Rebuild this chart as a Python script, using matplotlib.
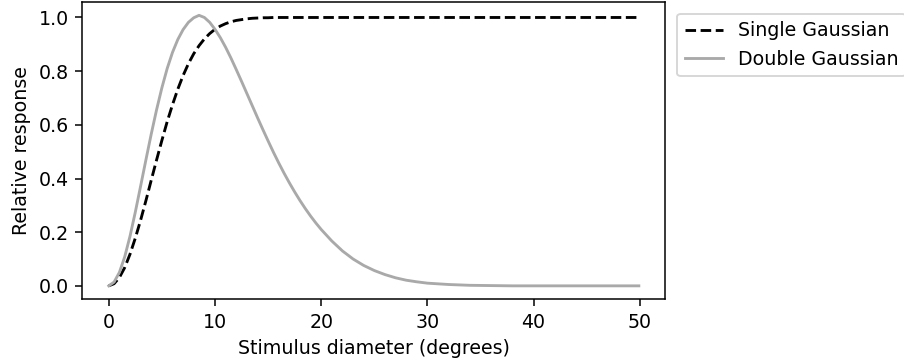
import numpy as np
import matplotlib.pyplot as plt

# stimulus diameters (degrees)
diameter = [0, 0.5, 1, 1.5, 2, 2.5, 3, 3.5, 4, 4.5, 5, 5.5, 6, 6.5, 7, 7.5, 8, 8.5,
            9, 9.5, 10, 10.5, 11, 11.5, 12, 12.5, 13, 13.5, 14, 14.5, 15, 15.5, 16,
            16.5, 17, 17.5, 18, 18.5, 19, 19.5, 20, 21, 22, 23, 24, 25, 26, 27, 28,
            29, 30, 32, 34, 36, 38, 40, 42, 44, 46, 48, 49.9]

single_gauss = [0.0, 0.008, 0.031, 0.068, 0.118, 0.178, 0.245, 0.318, 0.394, 0.469,
                0.542, 0.612, 0.675, 0.733, 0.784, 0.828, 0.865, 0.895, 0.920, 0.940,
                0.956, 0.968, 0.977, 0.984, 0.989, 0.992, 0.995, 0.997, 0.998, 0.999,
                0.999, 1.0, 1.0, 1.0, 1.0, 1.0, 1.0, 1.0, 1.0, 1.0, 1.0, 1.0, 1.0, 1.0,
                1.0, 1.0, 1.0, 1.0, 1.0, 1.0, 1.0, 1.0, 1.0, 1.0, 1.0, 1.0, 1.0, 1.0,
                1.0, 1.0, 1.0]

double_gauss = [0.0, 0.014, 0.05, 0.108, 0.185, 0.275, 0.372, 0.47, 0.566, 0.656,
                0.738, 0.81, 0.87, 0.918, 0.955, 0.982, 0.999, 1.008, 1.0, 0.982,
                0.956, 0.925, 0.889, 0.849, 0.806, 0.762, 0.717, 0.672, 0.627, 0.583,
                0.54, 0.498, 0.458, 0.42, 0.384, 0.35, 0.318, 0.288, 0.26, 0.234,
                0.21, 0.167, 0.13, 0.1, 0.076, 0.057, 0.042, 0.03, 0.021, 0.015,
                0.01, 0.005, 0.002, 0.001, 0.0, 0.0, 0.0, 0.0, 0.0, 0.0, 0.0]

DPI = 137
fig = plt.figure(figsize=(904 / DPI, 362 / DPI), dpi=DPI)
ax = fig.add_subplot(111)
fig.subplots_adjust(left=0.091, right=0.736, bottom=0.173, top=0.995)

ax.plot(diameter, single_gauss, 'k--', label='Single Gaussian')
ax.plot(diameter, double_gauss, color='darkgray', label='Double Gaussian')
ax.set_xlabel('Stimulus diameter (degrees)')
ax.set_ylabel('Relative response')
ax.legend(loc='upper left', bbox_to_anchor=(1.0, 1.0), borderaxespad=0.62)

fig.savefig('out.png', dpi=DPI)
